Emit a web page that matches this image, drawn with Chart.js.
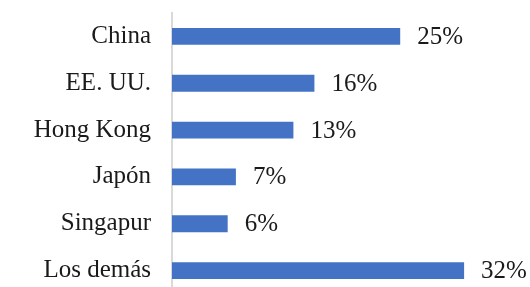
<!DOCTYPE html>
<html lang="es">
  <head>
    <meta charset="UTF-8" />
    <title>Destinos</title>
    <script src="https://cdn.jsdelivr.net/npm/chart.js"></script>
    <style>
      html, body { margin: 0; padding: 0; background: #fff; overflow: hidden; }
      .Chart { position: relative; width: 530px; height: 295px; }
    </style>
  </head>
  <body>
    <div class="Chart">
      <canvas id="barChart"></canvas>
    </div>
    <script>
      const countries = ["China", "EE. UU.", "Hong Kong", "Japón", "Singapur", "Los demás"];
      const shares = [25, 15.6, 13.3, 7, 6.1, 32];
      const shareLabels = ["25%", "16%", "13%", "7%", "6%", "32%"];

      const FONT = "'Liberation Serif', 'Times New Roman', serif";

      // value labels drawn just past the end of each bar
      const valueLabels = {
        id: "valueLabels",
        afterDatasetsDraw(chart) {
          const ctx = chart.ctx;
          const meta = chart.getDatasetMeta(0);
          ctx.save();
          ctx.font = "25px " + FONT;
          ctx.fillStyle = "#1a1a1a";
          ctx.textAlign = "left";
          ctx.textBaseline = "middle";
          meta.data.forEach((bar, i) => {
            ctx.fillText(shareLabels[i], bar.x + 17, bar.y + 1);
          });
          ctx.restore();
        },
      };

      new Chart(document.getElementById("barChart"), {
        type: "bar",
        data: {
          labels: countries,
          datasets: [
            {
              data: shares,
              backgroundColor: "#4472c4",
              barPercentage: 0.36,
              categoryPercentage: 1,
            },
          ],
        },
        options: {
          indexAxis: "y",
          responsive: true,
          maintainAspectRatio: false,
          animation: false,
          layout: { padding: { top: 13, bottom: 1, right: 2, left: 0 } },
          plugins: { legend: { display: false }, tooltip: { enabled: false } },
          scales: {
            x: { display: false, min: 0, max: 39 },
            y: {
              grid: { display: false, drawTicks: false },
              border: { display: true, color: "#d9d9d9", width: 2 },
              ticks: {
                color: "#1a1a1a",
                padding: 21,
                font: { family: FONT, size: 25 },
              },
              afterFit(scale) {
                // fixed axis position, no extra room above/below the labels
                scale.width = 172;
                scale.paddingTop = 0;
                scale.paddingBottom = 0;
              },
            },
          },
        },
        plugins: [valueLabels],
      });
    </script>
  </body>
</html>
